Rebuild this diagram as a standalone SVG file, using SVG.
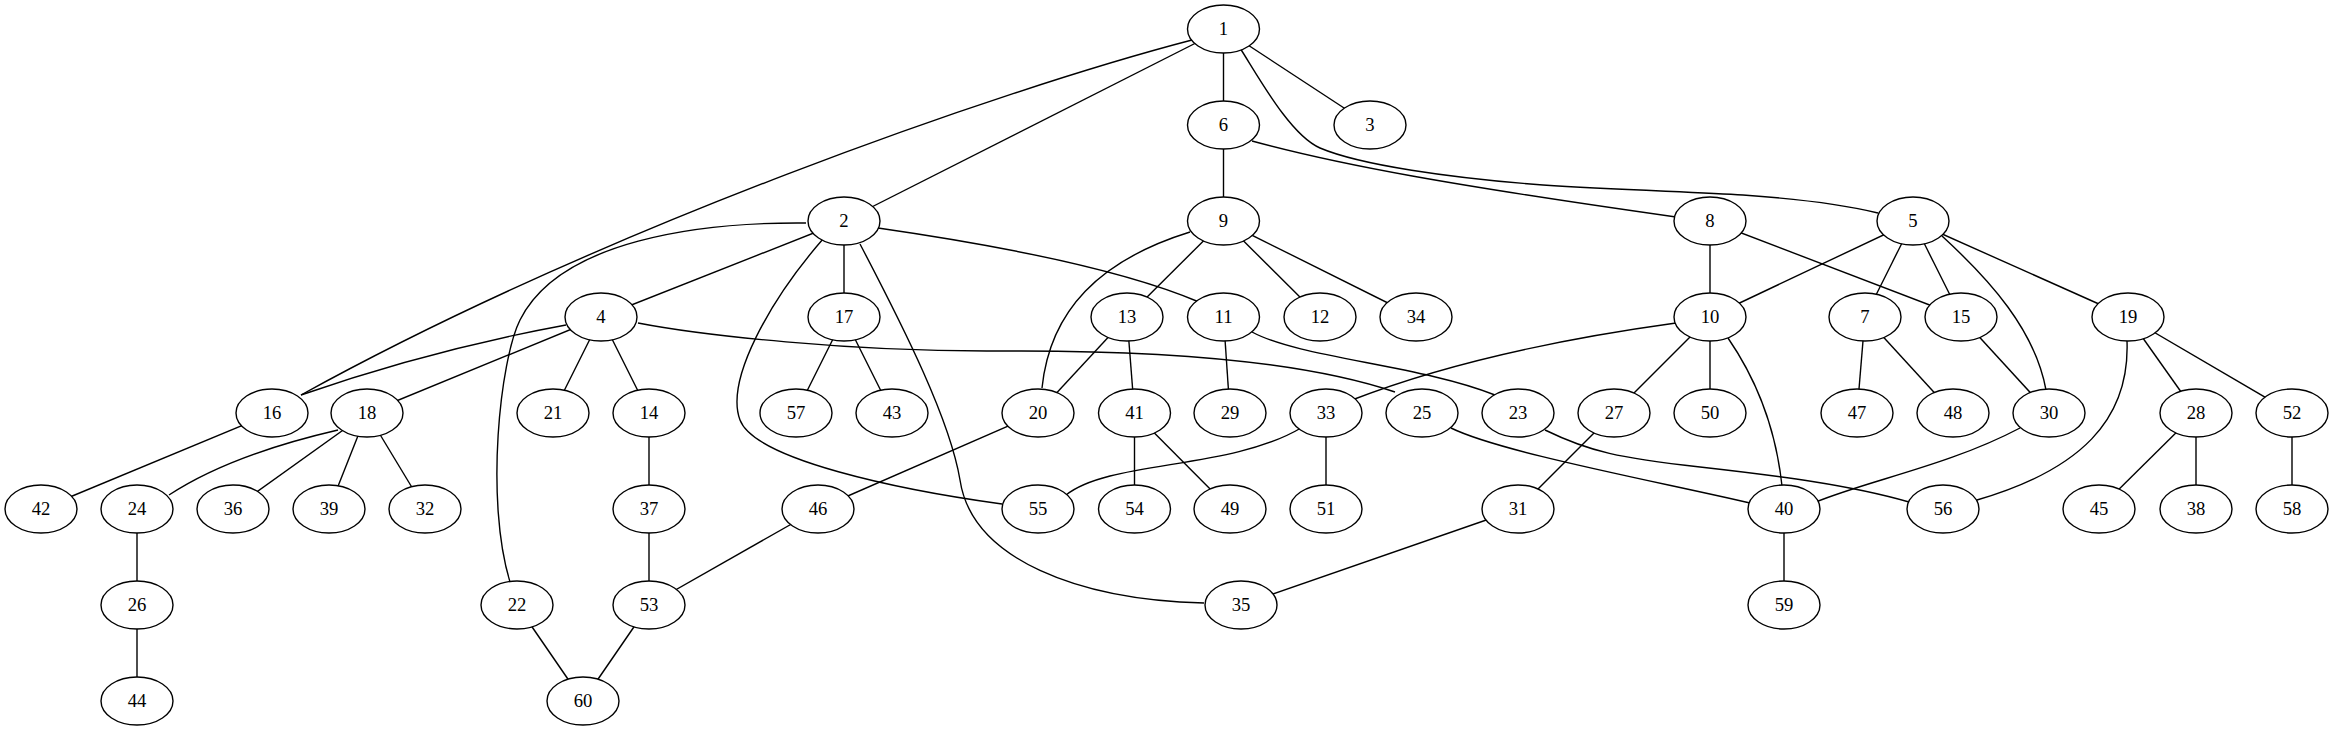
<svg xmlns="http://www.w3.org/2000/svg" width="2333" height="731" viewBox="0 0 2333 731">
<style>
.e{fill:none;stroke:#000;stroke-width:1.4}
.n ellipse{fill:#fff;stroke:#000;stroke-width:1.4}
.n text{font-family:"Liberation Serif","Times New Roman",serif;font-size:18.67px;text-anchor:middle;fill:#000}
</style>
<rect width="2333" height="731" fill="#fff"/>
<g id="edges" class="e">
<path d="M1223.5,29L844,221"/>
<path d="M1223.5,29L1223.5,125"/>
<path d="M1223.5,29L1370,125"/>
<path d="M1223.5,125L1223.5,221"/>
<path d="M844,221L601,317"/>
<path d="M844,221L844,317"/>
<path d="M1223.5,221L1127,317"/>
<path d="M1223.5,221L1320,317"/>
<path d="M1223.5,221L1416,317"/>
<path d="M1710,221L1710,317"/>
<path d="M1710,221L1961,317"/>
<path d="M1913,221L1710,317"/>
<path d="M1913,221L1865,317"/>
<path d="M1913,221L1961,317"/>
<path d="M1913,221L2128,317"/>
<path d="M601,317L367,413"/>
<path d="M601,317L553,413"/>
<path d="M601,317L649,413"/>
<path d="M844,317L796,413"/>
<path d="M844,317L892,413"/>
<path d="M1127,317L1038,413"/>
<path d="M1127,317L1134.5,413"/>
<path d="M1223.5,317L1230,413"/>
<path d="M1710,317L1614,413"/>
<path d="M1710,317L1710,413"/>
<path d="M1865,317L1857,413"/>
<path d="M1865,317L1953,413"/>
<path d="M1961,317L2049,413"/>
<path d="M2128,317L2196,413"/>
<path d="M2128,317L2292,413"/>
<path d="M272,413L41,509"/>
<path d="M367,413L233,509"/>
<path d="M367,413L329,509"/>
<path d="M367,413L425,509"/>
<path d="M649,413L649,509"/>
<path d="M1038,413L818,509"/>
<path d="M1134.5,413L1134.5,509"/>
<path d="M1134.5,413L1230,509"/>
<path d="M1326,413L1326,509"/>
<path d="M1614,413L1518,509"/>
<path d="M2196,413L2099,509"/>
<path d="M2196,413L2196,509"/>
<path d="M2292,413L2292,509"/>
<path d="M137,509L137,605"/>
<path d="M649,509L649,605"/>
<path d="M818,509L649,605"/>
<path d="M1518,509L1241,605"/>
<path d="M1784,509L1784,605"/>
<path d="M137,605L137,701"/>
<path d="M517,605L583,701"/>
<path d="M649,605L583,701"/>
<path d="M1192,40C1000,90 600,230 301,395"/>
<path d="M1240,48C1258,76 1290,135 1320,148C1360,165 1450,178 1543,185C1620,190 1700,192 1743,195C1800,199 1850,206 1878,213"/>
<path d="M1252,141C1340,165 1450,185 1676,217"/>
<path d="M878,228Q1100,260 1199,302"/>
<path d="M806,223C700,222 560,240 520,320C500,360 485,500 510,582"/>
<path d="M823,239C770,300 725,380 740,420C755,460 900,490 1002,504"/>
<path d="M860,244C905,330 950,420 960,480C972,560 1080,600 1204,603"/>
<path d="M1190,232C1100,260 1050,310 1042,388"/>
<path d="M1942,236C1990,280 2035,330 2046,390"/>
<path d="M566,325Q430,350 301,395"/>
<path d="M638,323C700,335 850,352 1000,351C1150,350 1300,360 1395,392"/>
<path d="M1252,332C1300,358 1420,365 1495,395"/>
<path d="M1676,323Q1480,350 1352,400"/>
<path d="M1728,338C1750,370 1775,420 1782,486"/>
<path d="M2127,341C2130,420 2080,470 1977,500"/>
<path d="M338,430Q230,455 169,495"/>
<path d="M1301,428C1230,470 1110,460 1066,495"/>
<path d="M1451,428C1500,452 1650,480 1750,503"/>
<path d="M1545,430C1590,452 1620,458 1700,467C1780,476 1850,485 1909,502"/>
<path d="M2020,428C1950,465 1870,480 1816,502"/>
</g>
<g id="node1" class="n"><ellipse cx="1223.5" cy="29" rx="36" ry="24"/><text x="1223.5" y="35">1</text></g>
<g id="node6" class="n"><ellipse cx="1223.5" cy="125" rx="36" ry="24"/><text x="1223.5" y="131">6</text></g>
<g id="node3" class="n"><ellipse cx="1370" cy="125" rx="36" ry="24"/><text x="1370" y="131">3</text></g>
<g id="node2" class="n"><ellipse cx="844" cy="221" rx="36" ry="24"/><text x="844" y="227">2</text></g>
<g id="node9" class="n"><ellipse cx="1223.5" cy="221" rx="36" ry="24"/><text x="1223.5" y="227">9</text></g>
<g id="node8" class="n"><ellipse cx="1710" cy="221" rx="36" ry="24"/><text x="1710" y="227">8</text></g>
<g id="node5" class="n"><ellipse cx="1913" cy="221" rx="36" ry="24"/><text x="1913" y="227">5</text></g>
<g id="node4" class="n"><ellipse cx="601" cy="317" rx="36" ry="24"/><text x="601" y="323">4</text></g>
<g id="node17" class="n"><ellipse cx="844" cy="317" rx="36" ry="24"/><text x="844" y="323">17</text></g>
<g id="node13" class="n"><ellipse cx="1127" cy="317" rx="36" ry="24"/><text x="1127" y="323">13</text></g>
<g id="node11" class="n"><ellipse cx="1223.5" cy="317" rx="36" ry="24"/><text x="1223.5" y="323">11</text></g>
<g id="node12" class="n"><ellipse cx="1320" cy="317" rx="36" ry="24"/><text x="1320" y="323">12</text></g>
<g id="node34" class="n"><ellipse cx="1416" cy="317" rx="36" ry="24"/><text x="1416" y="323">34</text></g>
<g id="node10" class="n"><ellipse cx="1710" cy="317" rx="36" ry="24"/><text x="1710" y="323">10</text></g>
<g id="node7" class="n"><ellipse cx="1865" cy="317" rx="36" ry="24"/><text x="1865" y="323">7</text></g>
<g id="node15" class="n"><ellipse cx="1961" cy="317" rx="36" ry="24"/><text x="1961" y="323">15</text></g>
<g id="node19" class="n"><ellipse cx="2128" cy="317" rx="36" ry="24"/><text x="2128" y="323">19</text></g>
<g id="node16" class="n"><ellipse cx="272" cy="413" rx="36" ry="24"/><text x="272" y="419">16</text></g>
<g id="node18" class="n"><ellipse cx="367" cy="413" rx="36" ry="24"/><text x="367" y="419">18</text></g>
<g id="node21" class="n"><ellipse cx="553" cy="413" rx="36" ry="24"/><text x="553" y="419">21</text></g>
<g id="node14" class="n"><ellipse cx="649" cy="413" rx="36" ry="24"/><text x="649" y="419">14</text></g>
<g id="node57" class="n"><ellipse cx="796" cy="413" rx="36" ry="24"/><text x="796" y="419">57</text></g>
<g id="node43" class="n"><ellipse cx="892" cy="413" rx="36" ry="24"/><text x="892" y="419">43</text></g>
<g id="node20" class="n"><ellipse cx="1038" cy="413" rx="36" ry="24"/><text x="1038" y="419">20</text></g>
<g id="node41" class="n"><ellipse cx="1134.5" cy="413" rx="36" ry="24"/><text x="1134.5" y="419">41</text></g>
<g id="node29" class="n"><ellipse cx="1230" cy="413" rx="36" ry="24"/><text x="1230" y="419">29</text></g>
<g id="node33" class="n"><ellipse cx="1326" cy="413" rx="36" ry="24"/><text x="1326" y="419">33</text></g>
<g id="node25" class="n"><ellipse cx="1422" cy="413" rx="36" ry="24"/><text x="1422" y="419">25</text></g>
<g id="node23" class="n"><ellipse cx="1518" cy="413" rx="36" ry="24"/><text x="1518" y="419">23</text></g>
<g id="node27" class="n"><ellipse cx="1614" cy="413" rx="36" ry="24"/><text x="1614" y="419">27</text></g>
<g id="node50" class="n"><ellipse cx="1710" cy="413" rx="36" ry="24"/><text x="1710" y="419">50</text></g>
<g id="node47" class="n"><ellipse cx="1857" cy="413" rx="36" ry="24"/><text x="1857" y="419">47</text></g>
<g id="node48" class="n"><ellipse cx="1953" cy="413" rx="36" ry="24"/><text x="1953" y="419">48</text></g>
<g id="node30" class="n"><ellipse cx="2049" cy="413" rx="36" ry="24"/><text x="2049" y="419">30</text></g>
<g id="node28" class="n"><ellipse cx="2196" cy="413" rx="36" ry="24"/><text x="2196" y="419">28</text></g>
<g id="node52" class="n"><ellipse cx="2292" cy="413" rx="36" ry="24"/><text x="2292" y="419">52</text></g>
<g id="node42" class="n"><ellipse cx="41" cy="509" rx="36" ry="24"/><text x="41" y="515">42</text></g>
<g id="node24" class="n"><ellipse cx="137" cy="509" rx="36" ry="24"/><text x="137" y="515">24</text></g>
<g id="node36" class="n"><ellipse cx="233" cy="509" rx="36" ry="24"/><text x="233" y="515">36</text></g>
<g id="node39" class="n"><ellipse cx="329" cy="509" rx="36" ry="24"/><text x="329" y="515">39</text></g>
<g id="node32" class="n"><ellipse cx="425" cy="509" rx="36" ry="24"/><text x="425" y="515">32</text></g>
<g id="node37" class="n"><ellipse cx="649" cy="509" rx="36" ry="24"/><text x="649" y="515">37</text></g>
<g id="node46" class="n"><ellipse cx="818" cy="509" rx="36" ry="24"/><text x="818" y="515">46</text></g>
<g id="node55" class="n"><ellipse cx="1038" cy="509" rx="36" ry="24"/><text x="1038" y="515">55</text></g>
<g id="node54" class="n"><ellipse cx="1134.5" cy="509" rx="36" ry="24"/><text x="1134.5" y="515">54</text></g>
<g id="node49" class="n"><ellipse cx="1230" cy="509" rx="36" ry="24"/><text x="1230" y="515">49</text></g>
<g id="node51" class="n"><ellipse cx="1326" cy="509" rx="36" ry="24"/><text x="1326" y="515">51</text></g>
<g id="node31" class="n"><ellipse cx="1518" cy="509" rx="36" ry="24"/><text x="1518" y="515">31</text></g>
<g id="node40" class="n"><ellipse cx="1784" cy="509" rx="36" ry="24"/><text x="1784" y="515">40</text></g>
<g id="node56" class="n"><ellipse cx="1943" cy="509" rx="36" ry="24"/><text x="1943" y="515">56</text></g>
<g id="node45" class="n"><ellipse cx="2099" cy="509" rx="36" ry="24"/><text x="2099" y="515">45</text></g>
<g id="node38" class="n"><ellipse cx="2196" cy="509" rx="36" ry="24"/><text x="2196" y="515">38</text></g>
<g id="node58" class="n"><ellipse cx="2292" cy="509" rx="36" ry="24"/><text x="2292" y="515">58</text></g>
<g id="node26" class="n"><ellipse cx="137" cy="605" rx="36" ry="24"/><text x="137" y="611">26</text></g>
<g id="node22" class="n"><ellipse cx="517" cy="605" rx="36" ry="24"/><text x="517" y="611">22</text></g>
<g id="node53" class="n"><ellipse cx="649" cy="605" rx="36" ry="24"/><text x="649" y="611">53</text></g>
<g id="node35" class="n"><ellipse cx="1241" cy="605" rx="36" ry="24"/><text x="1241" y="611">35</text></g>
<g id="node59" class="n"><ellipse cx="1784" cy="605" rx="36" ry="24"/><text x="1784" y="611">59</text></g>
<g id="node44" class="n"><ellipse cx="137" cy="701" rx="36" ry="24"/><text x="137" y="707">44</text></g>
<g id="node60" class="n"><ellipse cx="583" cy="701" rx="36" ry="24"/><text x="583" y="707">60</text></g>
</svg>
